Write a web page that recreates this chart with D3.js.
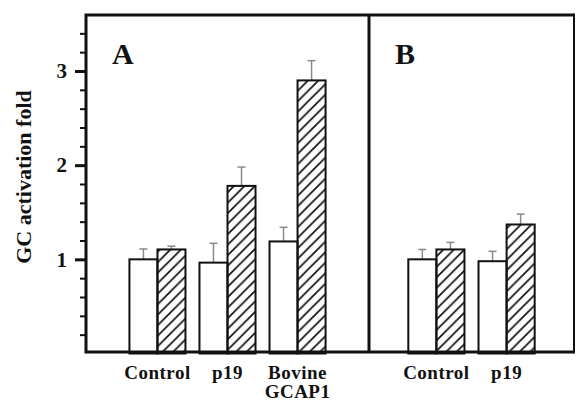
<!DOCTYPE html>
<html>
<head>
<meta charset="utf-8">
<script src="https://cdn.jsdelivr.net/npm/d3@7"></script>
<style>
  body { margin: 0; background: #fff; }
  svg { display: block; }
  text { font-family: "Liberation Serif", "Times New Roman", serif; font-weight: bold; fill: #111; }
</style>
</head>
<body>
<div id="chart"></div>
<script>
// data
const groupsA = ["Control", "p19", "Bovine\nGCAP1"];
const whiteA = [1.00, 0.965, 1.19];
const whiteErrA = [0.11, 0.205, 0.15];
const hatchA = [1.105, 1.78, 2.90];
const hatchErrA = [0.035, 0.20, 0.21];

const groupsB = ["Control", "p19"];
const whiteB = [1.00, 0.98];
const whiteErrB = [0.105, 0.105];
const hatchB = [1.105, 1.37];
const hatchErrB = [0.075, 0.11];

const majorTicks = [1, 2, 3];
const yLabel = "GC activation fold";

let width = 576, height = 403;
let frame = {left: 86, right: 574, top: 15, bottom: 352, divider: 369};

let svg = d3.select("#chart").append("svg")
  .attr("width", width)
  .attr("height", height);

// hatch pattern
svg.append("defs").append("pattern")
  .attr("id", "hatch")
  .attr("patternUnits", "userSpaceOnUse")
  .attr("width", 10.5).attr("height", 10.5)
  .append("path")
  .attr("d", "M-2,2 L2,-2 M0,10.5 L10.5,0 M8.5,12.5 L12.5,8.5")
  .attr("stroke", "#111")
  .attr("stroke-width", 1.7);

let y = d3.scaleLinear().domain([0, 3.6]).range([353.5, 14.5]);

function panel(groups, white, whiteErr, hatch, hatchErr, x0, x1, outer, letter){
  let x = d3.scaleBand().domain(groups).range([x0, x1])
    .paddingInner(0.2).paddingOuter(outer);
  let sub = d3.scaleBand().domain(["w", "h"]).range([0, x.bandwidth()]);

  let rows = groups.map((g, i) => [
    {g: g, k: "w", v: white[i], e: whiteErr[i]},
    {g: g, k: "h", v: hatch[i], e: hatchErr[i]}
  ]).flat();

  let g = svg.append("g");

  // error bars (upper only)
  let eb = g.selectAll(".err").data(rows).enter().append("g")
    .attr("class", "err")
    .attr("stroke", "#8a8a8a")
    .attr("stroke-width", 1.5);
  eb.append("line")
    .attr("x1", d => x(d.g) + sub(d.k) + sub.bandwidth() / 2)
    .attr("x2", d => x(d.g) + sub(d.k) + sub.bandwidth() / 2)
    .attr("y1", d => y(d.v))
    .attr("y2", d => y(d.v + d.e));
  eb.append("line")
    .attr("x1", d => x(d.g) + sub(d.k) + sub.bandwidth() / 2 - 4)
    .attr("x2", d => x(d.g) + sub(d.k) + sub.bandwidth() / 2 + 4)
    .attr("y1", d => y(d.v + d.e))
    .attr("y2", d => y(d.v + d.e));

  g.selectAll(".bar").data(rows).enter().append("rect")
    .attr("class", "bar")
    .attr("x", d => x(d.g) + sub(d.k))
    .attr("width", sub.bandwidth())
    .attr("y", d => y(d.v))
    .attr("height", d => y(0) - y(d.v))
    .attr("fill", d => d.k === "h" ? "url(#hatch)" : "#fff")
    .attr("stroke", "#111")
    .attr("stroke-width", 2);

  // category labels
  let lab = g.selectAll(".lab").data(groups).enter().append("text")
    .attr("class", "lab")
    .attr("text-anchor", "middle")
    .attr("font-size", 19)
    .attr("letter-spacing", 0.5)
    .attr("x", d => x(d) + x.bandwidth() / 2)
    .attr("y", 379);
  lab.selectAll("tspan").data(d => d.split("\n")).enter().append("tspan")
    .attr("x", function(){ return this.parentNode.getAttribute("x"); })
    .attr("dy", (d, i) => i ? 19 : 0)
    .text(d => d);

  g.append("text")
    .attr("x", x0 + 26)
    .attr("y", 64)
    .attr("font-size", 30)
    .text(letter);
}

panel(groupsA, whiteA, whiteErrA, hatchA, hatchErrA, frame.left, frame.divider, 0.62, "A");
panel(groupsB, whiteB, whiteErrB, hatchB, hatchErrB, frame.divider, frame.right, 0.56, "B");

// y axis ticks
let minor = d3.range(1, 18).map(i => i * 0.2).filter(v => Math.abs(v - Math.round(v)) > 1e-6);
let yMinor = svg.append("g")
  .attr("transform", "translate(" + frame.left + ",0)")
  .call(d3.axisLeft(y).tickValues(minor).tickSize(6).tickFormat(""));
yMinor.select(".domain").remove();
yMinor.selectAll("line").attr("stroke", "#111").attr("stroke-width", 2);

let yMajor = svg.append("g")
  .attr("transform", "translate(" + frame.left + ",0)")
  .call(d3.axisLeft(y).tickValues(majorTicks).tickSize(11).tickPadding(8).tickFormat(d3.format("d")));
yMajor.select(".domain").remove();
yMajor.selectAll("line").attr("stroke", "#111").attr("stroke-width", 3);
yMajor.selectAll("text")
  .attr("font-size", 21)
  .attr("fill", "#111");

// frame
svg.append("path")
  .attr("d", "M" + frame.right + "," + frame.top + "H" + frame.left + "V" + frame.bottom + "H" + frame.right)
  .attr("fill", "none")
  .attr("stroke", "#111")
  .attr("stroke-width", 3);
svg.append("line")
  .attr("x1", frame.right).attr("x2", frame.right)
  .attr("y1", frame.top - 1.5).attr("y2", frame.bottom + 1.5)
  .attr("stroke", "#111")
  .attr("stroke-width", 2);
svg.append("line")
  .attr("x1", frame.divider).attr("x2", frame.divider)
  .attr("y1", frame.top).attr("y2", frame.bottom)
  .attr("stroke", "#111")
  .attr("stroke-width", 3);

// y label
svg.append("text")
  .attr("transform", "translate(31,177) rotate(-90)")
  .attr("text-anchor", "middle")
  .attr("font-size", 22)
  .text(yLabel);
</script>
</body>
</html>
